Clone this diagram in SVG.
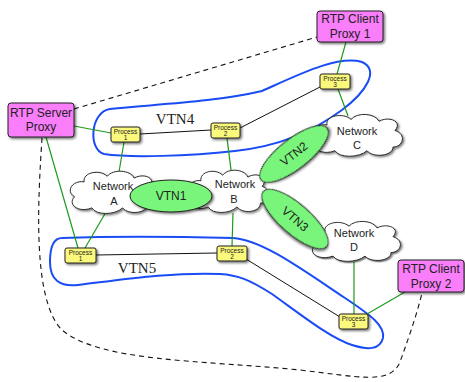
<svg xmlns="http://www.w3.org/2000/svg" xmlns:xlink="http://www.w3.org/1999/xlink" width="465" height="382" viewBox="0 0 465 382">
  <defs>
    <filter id="shadow" x="-20%" y="-20%" width="150%" height="160%">
      <feDropShadow dx="1.5" dy="1.5" stdDeviation="0.9" flood-color="#000" flood-opacity="0.55"/>
    </filter>
    <!-- cloud outline centred on the origin, about 94 x 46 -->
    <path id="cloud" d="M -30,-12 C -32,-22 -14,-26 -6,-18 C 0,-26 18,-25 22,-16 C 32,-22 46,-16 38,-6 C 50,-2 46,12 36,12 C 36,22 16,24 10,16 C 2,24 -18,24 -22,16 C -36,22 -48,12 -40,4 C -50,-2 -42,-14 -30,-12 Z"/>
    <style>
      .proxy { fill: #fa7dfa; stroke: #222; stroke-width: 1; filter: url(#shadow); }
      .proc { fill: #fbf97c; stroke: #222; stroke-width: 1; filter: url(#shadow); }
      .cloud { fill: #fff; stroke: #222; stroke-width: 1; filter: url(#shadow); }
      .vtn { fill: #78f57a; stroke: #222; stroke-width: 1; filter: url(#shadow); }
      .loop { fill: none; stroke: #1a4cf5; stroke-width: 2; }
      .green { fill: none; stroke: #1e9a1e; stroke-width: 1.2; }
      .black { fill: none; stroke: #111; stroke-width: 1; }
      .dash { fill: none; stroke: #111; stroke-width: 1.1; stroke-dasharray: 5 4; }
      text { font-family: "Liberation Sans", Arial, sans-serif; fill: #222; text-anchor: middle; }
      .t12 { font-size: 12px; }
      .t11 { font-size: 11px; }
      .t6 { font-size: 6.5px; }
      .serif { font-family: "Liberation Serif", "Times New Roman", serif; font-size: 15px; }
    </style>
  </defs>

  <!-- virtual network loops -->
  <g id="vtn4-loop">
    <path class="loop" d="M 110,109 C 160,104 215,102 262,91 C 300,74 338,55 362,62 C 380,70 366,92 342,110 C 312,132 280,146 235,151 C 190,156 130,158 104,154 C 88,150 90,112 110,109 Z"/>
    <text class="serif" x="175" y="124">VTN4</text>
  </g>
  <g id="vtn5-loop">
    <path class="loop" d="M 62,238 C 120,236 190,237 233,238 C 262,240 300,268 345,298 C 372,316 385,326 383,338 C 380,350 368,350 352,345 C 330,338 300,314 272,294 C 250,280 238,275 220,274 C 170,272 120,280 78,285 C 60,287 50,280 50,262 C 50,246 54,238 62,238 Z"/>
    <text class="serif" x="137" y="273">VTN5</text>
  </g>

  <!-- connectors -->
  <g id="connectors">
    <path class="dash" d="M 74,109 L 317,37"/>
    <path class="dash" d="M 42,138 C 38,200 32,300 62,330 C 100,362 200,360 300,370 C 360,377 390,385 400,362 C 406,345 416,318 422,293"/>
    <path class="green" d="M 74,126 L 111,133"/>
    <path class="green" d="M 46,137 L 78,248"/>
    <path class="green" d="M 124,142 L 119,172"/>
    <path class="green" d="M 227,138 L 231,170"/>
    <path class="green" d="M 346,42 L 337,74"/>
    <path class="green" d="M 338,89 L 348,116"/>
    <path class="green" d="M 106,212 L 85,248"/>
    <path class="green" d="M 233,213 L 232,246"/>
    <path class="green" d="M 354,262 L 354,314"/>
    <path class="green" d="M 367,314 L 405,292"/>
    <path class="black" d="M 140,134 L 211,130"/>
    <path class="black" d="M 240,128 L 320,87"/>
    <path class="black" d="M 96,255 L 217,253"/>
    <path class="black" d="M 246,259 L 340,317"/>
  </g>

  <!-- networks -->
  <g id="network-a">
    <use xlink:href="#cloud" class="cloud" transform="translate(113,193) scale(0.96,0.93)"/>
    <text class="t11" x="113" y="190">Network</text>
    <text class="t11" x="114" y="205">A</text>
  </g>
  <g id="network-b">
    <use xlink:href="#cloud" class="cloud" transform="translate(228,192) scale(0.9,0.93)"/>
    <text class="t11" x="235" y="188">Network</text>
    <text class="t11" x="234" y="203">B</text>
  </g>
  <g id="network-c">
    <use xlink:href="#cloud" class="cloud" transform="translate(357,136) scale(1,0.92)"/>
    <text class="t11" x="357" y="135">Network</text>
    <text class="t11" x="357" y="149">C</text>
  </g>
  <g id="network-d">
    <use xlink:href="#cloud" class="cloud" transform="translate(355,242) scale(1,0.88)"/>
    <text class="t11" x="354" y="237">Network</text>
    <text class="t11" x="354" y="251">D</text>
  </g>

  <!-- virtual network links -->
  <g id="vtn1">
    <ellipse class="vtn" cx="171" cy="196" rx="41" ry="16"/>
    <text class="t12" x="171" y="200">VTN1</text>
  </g>
  <g id="vtn2">
    <ellipse class="vtn" cx="294" cy="154" rx="42" ry="15" transform="rotate(-38 294 154)"/>
    <text class="t12" x="294" y="158" transform="rotate(-38 294 154)">VTN2</text>
  </g>
  <g id="vtn3">
    <ellipse class="vtn" cx="295" cy="219" rx="42" ry="15" transform="rotate(41 295 219)"/>
    <text class="t12" x="295" y="223" transform="rotate(41 295 219)">VTN3</text>
  </g>

  <!-- proxies -->
  <g id="server-proxy">
    <rect class="proxy" x="8" y="103" width="66" height="34" rx="3"/>
    <text class="t12" x="41" y="117">RTP Server</text>
    <text class="t12" x="41" y="131">Proxy</text>
  </g>
  <g id="client-proxy-1">
    <rect class="proxy" x="317" y="11" width="66" height="31" rx="3"/>
    <text class="t12" x="350" y="23">RTP Client</text>
    <text class="t12" x="350" y="38">Proxy 1</text>
  </g>
  <g id="client-proxy-2">
    <rect class="proxy" x="398" y="260" width="66" height="32" rx="3"/>
    <text class="t12" x="431" y="273">RTP Client</text>
    <text class="t12" x="431" y="288">Proxy 2</text>
  </g>

  <!-- processes -->
  <g id="vtn4-process-1">
    <rect class="proc" x="111" y="127" width="29" height="15" rx="2"/>
    <text class="t6" x="125.5" y="133.5">Process</text>
    <text class="t6" x="125.5" y="140">1</text>
  </g>
  <g id="vtn4-process-2">
    <rect class="proc" x="211" y="123" width="29" height="15" rx="2"/>
    <text class="t6" x="225.5" y="129.5">Process</text>
    <text class="t6" x="225.5" y="136">2</text>
  </g>
  <g id="vtn4-process-3">
    <rect class="proc" x="320" y="74" width="30" height="15" rx="2"/>
    <text class="t6" x="335" y="80.5">Process</text>
    <text class="t6" x="335" y="87">3</text>
  </g>
  <g id="vtn5-process-1">
    <rect class="proc" x="65" y="248" width="31" height="15" rx="2"/>
    <text class="t6" x="80.5" y="254.5">Process</text>
    <text class="t6" x="80.5" y="261">1</text>
  </g>
  <g id="vtn5-process-2">
    <rect class="proc" x="217" y="246" width="30" height="15" rx="2"/>
    <text class="t6" x="232" y="252.5">Process</text>
    <text class="t6" x="232" y="259">2</text>
  </g>
  <g id="vtn5-process-3">
    <rect class="proc" x="339" y="314" width="29" height="15" rx="2"/>
    <text class="t6" x="353.5" y="320.5">Process</text>
    <text class="t6" x="353.5" y="327">3</text>
  </g>
</svg>
